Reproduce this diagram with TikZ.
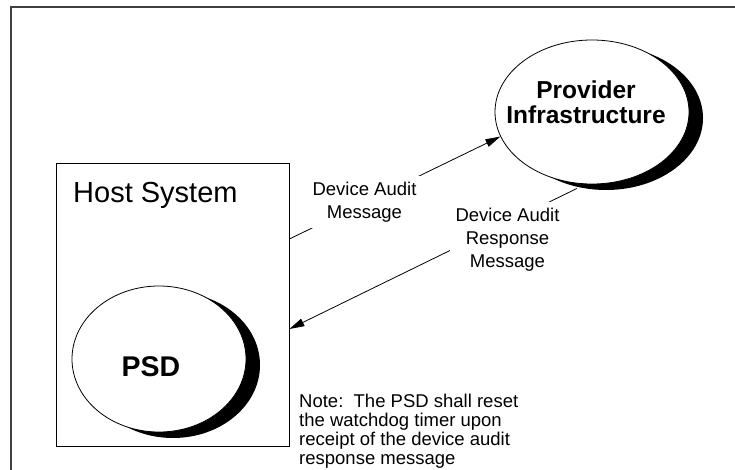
\documentclass[tikz,border=0pt]{standalone}
\usepackage{fontspec}
\setmainfont{Liberation Sans}
\usetikzlibrary{shapes.geometric}
\usetikzlibrary{shadows}
\usetikzlibrary{arrows.meta}
\tikzset{blob/.style={ellipse,draw,line width=0.8pt,fill=white,inner sep=0pt,
    drop shadow={shadow xshift=14pt,shadow yshift=-6pt,fill=black,opacity=1}}}
\tikzset{msg/.style={fill=white,align=center,inner sep=6pt,font=\fontsize{18.5}{22.75}\selectfont}}
\tikzset{flow/.style={-{Triangle[length=15pt,width=8pt]},line width=0.8pt}}

\begin{document}
\begin{tikzpicture}[x=1pt,y=-1pt]
      \useasboundingbox (0,0) rectangle (735,470);
      \draw[line width=1.4pt,black!75] (11,470) -- (11,7) -- (735,7);
      \node[draw,line width=0.8pt,inner sep=0pt,minimum width=233pt,minimum height=283pt] at (172.5,304.5) (host) {};
      \node[anchor=base west,inner sep=0pt,font=\fontsize{29}{34}\selectfont] at (73,203) (hostlabel) {Host System};
      \node[blob,minimum width=174pt,minimum height=146pt] at (159,359) (psd) {};
      \node[font=\fontsize{28.5}{34}\selectfont\bfseries] at ([shift={(-8pt,-8pt)}]psd.center) (psdlabel) {PSD};
      \node[blob,minimum width=194pt,minimum height=144pt] at (592,112) (provider) {};
      \node[align=center,font=\fontsize{24.5}{25}\selectfont\bfseries] at ([shift={(-6pt,10pt)}]provider.center) (providerlabel) {Provider\\Infrastructure};
      \draw[flow] ([yshift=65.5pt]host.east) -- (provider.195);
      \draw[flow] ([yshift=-5pt]provider.258) -- ([yshift=-24.5pt]host.east);
      \node[msg] at (364.5,202) (auditmsg) {Device Audit\\Message};
      \node[msg] at (507.5,239.5) (responsemsg) {Device Audit\\Response\\Message};
      \node[anchor=north west,align=left,inner sep=0pt,font=\fontsize{18.5}{19}\selectfont] at (299,394) (note) {Note:\ \ The PSD shall reset\\the watchdog timer upon\\receipt of the device audit\\response message};
\end{tikzpicture}
\end{document}
